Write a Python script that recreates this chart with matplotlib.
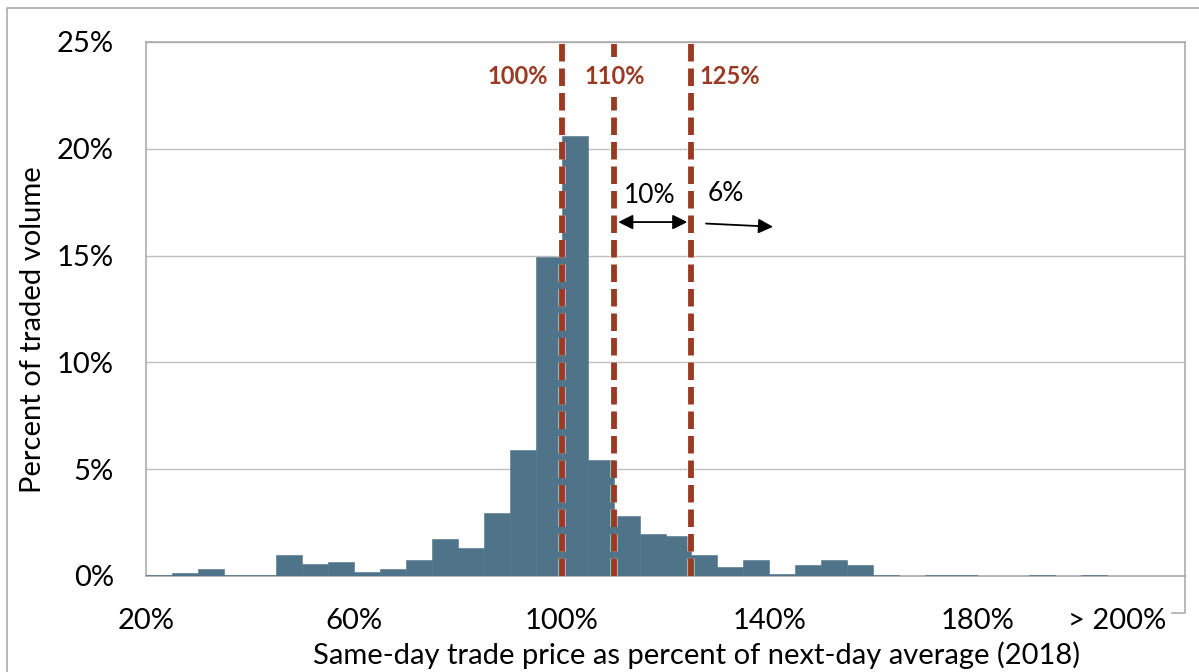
import numpy as np
import matplotlib.pyplot as plt
import matplotlib.patheffects as pe
from matplotlib.lines import Line2D

plt.rcParams['font.family'] = ['Lato', 'DejaVu Sans']

# histogram bins (left edge, percent of next-day average), 5% wide
bin_left = list(range(20, 220, 5))
volume = [0.04, 0.15, 0.33, 0.05, 0.05, 1.0, 0.55, 0.65, 0.17, 0.35,
          0.75, 1.75, 1.3, 2.97, 5.88, 14.93, 20.62, 5.42, 2.80, 1.98,
          1.87, 0.96, 0.42, 0.77, 0.11, 0.50, 0.77, 0.50, 0.03, 0.0,
          0.03, 0.03, 0.0, 0.0, 0.03, 0.0, 0.03, 0.0, 0.0, 0.0]

tick_pos = [20, 60, 100, 140, 180, 207]
tick_lab = ['20%', '60%', '100%', '140%', '180%', '> 200%']
y_ticks = [0, 5, 10, 15, 20, 25]

thresholds = [100, 110, 125]
thr_labels = ['100%', '110%', '125%']

W, H = 1199, 672
fig = plt.figure(figsize=(W / 100, H / 100), dpi=100)
ax = fig.add_axes([146 / W, 1 - 576 / H, (1185 - 146) / W, (576 - 42) / H])

bar_col = '#4f7489'
red = '#9b3a24'
grey = '#a6a6a6'

ax.bar(bin_left, volume, width=5, align='edge', color=bar_col,
       edgecolor=bar_col, linewidth=0.4, zorder=3)

ax.set_xlim(20, 220)
ax.set_ylim(0, 25)
ax.set_yticks(y_ticks)
ax.set_yticklabels([f'{v}%' for v in y_ticks])
ax.set_xticks(tick_pos)
ax.set_xticklabels(tick_lab)
ax.tick_params(axis='both', length=0, labelsize=21, colors='black')
ax.tick_params(axis='y', pad=23)
ax.tick_params(axis='x', pad=23)
ax.grid(axis='y', color='#c0c0c0', linewidth=1.0, zorder=0)
for s in ax.spines.values():
    s.set_color(grey)
    s.set_linewidth(1.1)

# dashed threshold lines
dash_fx = [pe.Stroke(linewidth=5.4, foreground='white', alpha=0.6), pe.Normal()]
for t in thresholds:
    ax.axvline(t, ymin=0, ymax=1.005, color=red, linewidth=4.2,
               dashes=(3.0, 1.2), zorder=5, clip_on=False, path_effects=dash_fx)

ax.text(97.4, 23.37, thr_labels[0], color=red, fontsize=17, fontweight='bold',
        ha='right', va='center', zorder=6)
ax.text(110.2, 23.37, thr_labels[1], color=red, fontsize=17, fontweight='bold',
        ha='center', va='center', zorder=6,
        bbox=dict(facecolor='white', edgecolor='none', pad=6))
ax.text(126.5, 23.37, thr_labels[2], color=red, fontsize=17, fontweight='bold',
        ha='left', va='center', zorder=6)

# arrows and shares
ax.annotate('', xy=(110.9, 16.57), xytext=(124.2, 16.57),
            arrowprops=dict(arrowstyle='<|-|>', color='black', lw=1.3,
                            mutation_scale=22, shrinkA=0, shrinkB=0), zorder=6)
ax.text(117.0, 17.83, '10%', fontsize=19, ha='center', va='center')
ax.annotate('', xy=(140.7, 16.35), xytext=(127.8, 16.5),
            arrowprops=dict(arrowstyle='-|>', color='black', lw=1.3,
                            mutation_scale=22, shrinkA=0, shrinkB=0), zorder=6)
ax.text(131.7, 17.92, '6%', fontsize=19, ha='center', va='center')

fig.text(697 / W, 1 - 655 / H, 'Same-day trade price as percent of next-day average (2018)',
         fontsize=21, ha='center', va='center')
fig.text(33 / W, 1 - 330 / H, 'Percent of traded volume', fontsize=21,
         ha='center', va='center', rotation=90)

# outer chart border and small frame piece near the axis labels
def px_line(xs, ys):
    fig.add_artist(Line2D([x / W for x in xs], [1 - y / H for y in ys],
                          color=grey, linewidth=1.1, transform=fig.transFigure))

px_line([7, 7, 1199], [672, 8, 8])
px_line([1185, 1185, 1172], [576, 613, 613])

fig.savefig('out.png', dpi=100, facecolor='white')
